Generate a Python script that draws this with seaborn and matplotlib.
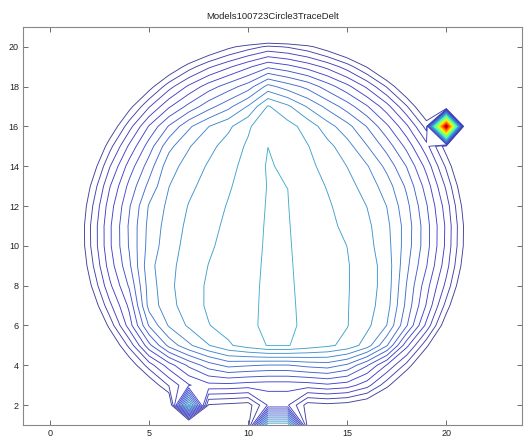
import numpy as np
import matplotlib
matplotlib.use("Agg")
import matplotlib.pyplot as plt
import seaborn as sns

# grid coordinates (columns = x, rows = y)
x_vals = list(range(1, 22))
y_vals = list(range(1, 22))

# field values, one list per grid row (row y=1 first)
row_01 = [-5, -5, -5, -5, -5, -5, -3.3, -1.8, -0.6, 0.0, 12.45, 12.45, 0.0, -1.1, -2.4, -4.0, -5, -5, -5, -5, -5]
row_02 = [-5, -5, -5, -5, -3.3, -1.3, 12.0, 0.4, 0.2, 0.0, 2.6, 2.6, 0.0, 0.2, 0.0, -0.6, -2.2, -4.4, -5, -5, -5]
row_03 = [-5, -5, -5, -2.8, -0.6, 1.6, 3.4, 4.2, 4.2, 4.0, 3.9, 3.9, 4.0, 4.3, 4.0, 2.9, 0.85, -1.5, -4.0, -5, -5]
row_04 = [-5, -5, -3.0, -0.4, 2.0, 4.0, 5.7, 7.0, 7.8, 7.6, 7.43, 7.43, 7.8, 8.0, 7.3, 5.6, 3.4, 1.15, -1.5, -4.4, -5]
row_05 = [-5, -3.9, -1.0, 1.8, 5.2, 7.8, 9.3, 10.45, 11.35, 12.0, 12.55, 12.55, 12.1, 11.7, 11.2, 10.0, 7.6, 3.8, 0.75, -2.2, -5]
row_06 = [-5, -2.2, 0.8, 4.0, 7.6, 9.61, 10.66, 11.46, 11.89, 12.3, 12.71, 12.67, 12.3, 11.92, 11.54, 10.75, 9.48, 6.6, 3.2, -0.4, -3.6]
row_07 = [-4.0, -0.8, 2.2, 4.75, 8.9, 10.13, 11.05, 11.64, 11.98, 12.32, 12.66, 12.647, 12.28, 11.92, 11.55, 10.91, 9.93, 7.2, 4.4, 1.1, -2.2]
row_08 = [-3.05, 0.25, 3.25, 5.65, 9.0, 10.28, 11.07, 11.63, 11.97, 12.31, 12.64, 12.613, 12.27, 11.92, 11.57, 10.97, 10.07, 7.45, 4.9, 2.2, -1.1]
row_09 = [-2.35, 0.95, 3.95, 6.3, 9.2, 10.24, 10.94, 11.52, 11.89, 12.26, 12.63, 12.588, 12.25, 11.91, 11.57, 10.97, 10.07, 7.75, 5.55, 2.9, -0.35]
row_10 = [-2.0, 1.35, 4.3, 6.6, 8.9, 10.1, 10.82, 11.36, 11.8, 12.21, 12.61, 12.568, 12.21, 11.86, 11.49, 10.83, 9.875, 8.0, 5.9, 3.25, 0.04]
row_11 = [-1.95, 1.38, 4.3, 6.65, 8.8, 9.95, 10.71, 11.22, 11.7, 12.15, 12.594, 12.548, 12.145, 11.74, 11.28, 10.72, 9.75, 8.05, 5.9, 3.3, 0.08]
row_12 = [-2.25, 1.05, 4.0, 6.4, 8.6, 9.75, 10.55, 11.06, 11.57, 12.07, 12.57, 12.522, 12.08, 11.63, 11.09, 10.48, 9.48, 7.8, 5.6, 3.0, -0.25]
row_13 = [-2.9, 0.4, 3.4, 5.8, 7.8, 9.48, 10.27, 10.87, 11.39, 11.96, 12.54, 12.496, 11.95, 11.44, 10.85, 10.1, 9.0, 7.3, 5.05, 2.3, -0.9]
row_14 = [-3.8, -0.6, 2.4, 4.95, 7.0, 9.12, 9.88, 10.62, 11.21, 11.83, 12.6, 12.3, 11.75, 11.17, 10.48, 9.59, 8.2, 6.45, 4.15, 1.3, -1.9]
row_15 = [-5, -1.9, 1.1, 3.7, 6.0, 8.2, 9.42, 10.19, 10.93, 11.66, 12.494, 12.04, 11.55, 10.81, 9.9, 8.55, 7.1, 5.2, 2.85, -0.1, -3.25]
row_16 = [-5, -3.4, -0.6, 2.1, 4.6, 6.6, 8.3, 9.48, 10.28, 11.34, 12.35, 11.85, 11.12, 9.94, 8.85, 7.45, 5.7, 3.7, 1.1, 37.0, -4.8]
row_17 = [-5, -5, -2.6, 0.1, 2.4, 4.35, 5.8, 7.1, 8.2, 9.6, 11.6, 10.7, 9.4, 8.2, 7.0, 5.6, 3.9, 1.6, -1.0, -3.8, -5]
row_18 = [-5, -5, -4.8, -2.3, 0.0, 2.1, 3.7, 5.0, 6.0, 7.0, 8.85, 8.0, 7.2, 6.0, 4.8, 3.3, 1.4, -0.9, -3.4, -5, -5]
row_19 = [-5, -5, -5, -4.9, -2.7, -0.7, 1.0, 2.3, 3.3, 4.3, 5.3, 4.8, 4.1, 3.2, 2.0, 0.4, -1.6, -3.7, -5, -5, -5]
row_20 = [-5, -5, -5, -5, -5, -3.8, -2.2, -0.9, 0.2, 1.0, 1.7, 1.4, 0.8, -0.2, -1.4, -3.0, -4.8, -5, -5, -5, -5]
row_21 = [-5] * 21

title = "Models100723Circle3TraceDelt"
x_ticks = [0, 5, 10, 15, 20]
y_ticks = [2, 4, 6, 8, 10, 12, 14, 16, 18, 20]

sns.set_theme(style="ticks")
plt.rcParams['font.family'] = ['Liberation Sans', 'DejaVu Sans']

Z = np.array([row_01, row_02, row_03, row_04, row_05, row_06, row_07,
              row_08, row_09, row_10, row_11, row_12, row_13, row_14,
              row_15, row_16, row_17, row_18, row_19, row_20, row_21])
X, Y = np.meshgrid(x_vals, y_vals)

levels = np.arange(0.5, 37.0, 1.0)
jet = np.array(sns.mpl_palette("jet", len(levels)))
# thin lines in the original look washed out in the low (blue) part of the map
haze = np.array([0.5, 0.5, 0.6])
line_colors = []
for lev, c in zip(levels, jet):
    w = 0.5 if lev < 14 else 0.0
    line_colors.append(tuple((1 - w) * c + w * haze))

fig = plt.figure(figsize=(5.25, 4.4), dpi=100)
ax = fig.add_axes([0.044, 0.034, 0.951, 0.905])
ax.contour(X, Y, Z, levels=levels, colors=line_colors, linewidths=0.65)

ax.set_xlim(-1.36, 23.84)
ax.set_ylim(1, 21)
ax.set_xticks(x_ticks)
ax.set_yticks(y_ticks)
ax.tick_params(direction="in", top=True, right=True, length=3.5, width=0.6,
               color="#555555", labelsize=6.5, labelcolor="#222222", pad=3)
for s in ax.spines.values():
    s.set_color("#888888")
    s.set_linewidth(0.8)
ax.set_title(title, fontsize=6.8, color="#222222", pad=6)

fig.savefig("out.png", dpi=100, facecolor="white")
